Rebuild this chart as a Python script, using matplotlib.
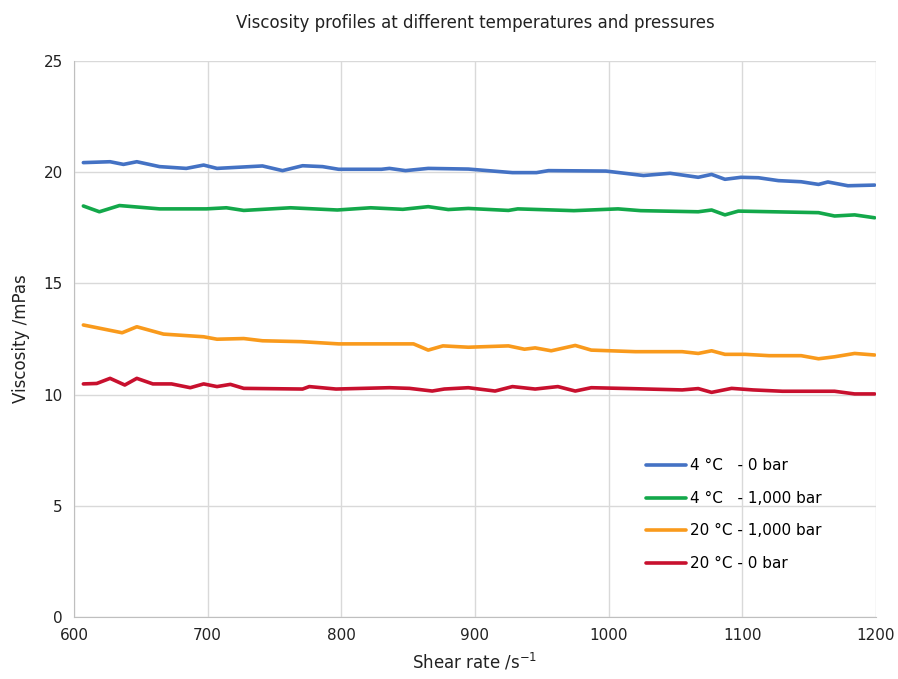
"""
Viscosity profiles at different temperatures and pressures.
"""

import matplotlib
matplotlib.use('Agg')
import matplotlib.pyplot as plt

# Shear rate samples (s^-1) and viscosity (mPas)
blue_x = [607, 627, 637, 647, 664, 684, 697, 707, 741, 756, 771, 786, 798, 830,
          836, 848, 865, 895, 928, 946, 955, 998, 1026, 1046, 1067, 1077, 1087,
          1099, 1112, 1127, 1144, 1157, 1164, 1179, 1199]
blue_y = [20.43, 20.47, 20.35, 20.47, 20.25, 20.17, 20.32, 20.17, 20.28, 20.07,
          20.29, 20.25, 20.13, 20.13, 20.17, 20.07, 20.17, 20.14, 19.98, 19.98,
          20.07, 20.05, 19.85, 19.95, 19.77, 19.90, 19.68, 19.77, 19.75, 19.62,
          19.57, 19.45, 19.56, 19.39, 19.42]

green_x = [607, 619, 634, 664, 699, 714, 727, 762, 797, 822, 846, 865, 880, 895,
           925, 932, 974, 1007, 1024, 1067, 1077, 1087, 1097, 1157, 1169, 1184,
           1199]
green_y = [18.48, 18.22, 18.50, 18.35, 18.35, 18.40, 18.28, 18.40, 18.30, 18.40,
           18.33, 18.45, 18.32, 18.37, 18.28, 18.35, 18.27, 18.35, 18.27, 18.22,
           18.30, 18.08, 18.25, 18.18, 18.03, 18.08, 17.95]

orange_x = [607, 636, 647, 667, 697, 707, 727, 741, 770, 798, 822, 854, 865, 876,
            895, 925, 937, 945, 957, 975, 987, 1020, 1055, 1067, 1077, 1087,
            1102, 1120, 1144, 1157, 1169, 1184, 1199]
orange_y = [13.13, 12.78, 13.05, 12.72, 12.60, 12.49, 12.52, 12.42, 12.38, 12.28,
            12.28, 12.28, 12.00, 12.19, 12.13, 12.19, 12.04, 12.10, 11.97, 12.21,
            12.00, 11.93, 11.93, 11.85, 11.97, 11.81, 11.81, 11.75, 11.75, 11.61,
            11.70, 11.85, 11.78]

red_x = [607, 617, 627, 638, 647, 659, 673, 687, 697, 707, 717, 727, 771, 776,
         796, 836, 851, 868, 877, 895, 915, 928, 945, 962, 975, 987, 1016, 1055,
         1067, 1077, 1092, 1108, 1130, 1169, 1184, 1199]
red_y = [10.48, 10.50, 10.73, 10.43, 10.73, 10.48, 10.48, 10.31, 10.48, 10.36,
         10.46, 10.28, 10.25, 10.36, 10.25, 10.31, 10.28, 10.16, 10.25, 10.31,
         10.16, 10.36, 10.25, 10.36, 10.16, 10.31, 10.27, 10.21, 10.27, 10.10,
         10.28, 10.21, 10.15, 10.15, 10.03, 10.03]

labels = ['4 °C   - 0 bar', '4 °C   - 1,000 bar', '20 °C - 1,000 bar', '20 °C - 0 bar']
colors = ['#4472C4', '#13A84A', '#F99A1C', '#C8102E']

x_ticks = [600, 700, 800, 900, 1000, 1100, 1200]
y_ticks = [0, 5, 10, 15, 20, 25]

# Create figure
fig = plt.figure(figsize=(8.98, 6.79), dpi=100)
ax = fig.add_axes([0.0824, 0.0913, 0.8931, 0.8189])

series = [(blue_x, blue_y), (green_x, green_y), (orange_x, orange_y), (red_x, red_y)]
for (xs, ys), label, color in zip(series, labels, colors):
    ax.plot(xs, ys, color=color, lw=2.6, label=label,
            solid_joinstyle='round', solid_capstyle='round')

# Configure axes
ax.set_xlim(600, 1200)
ax.set_ylim(0, 25)
ax.set_xticks(x_ticks)
ax.set_yticks(y_ticks)
ax.tick_params(length=0, labelsize=11, colors='#222222', pad=8)
ax.grid(True, color='#d9d9d9', lw=1)
ax.set_axisbelow(True)
for side in ['top', 'right']:
    ax.spines[side].set_visible(False)
for side in ['left', 'bottom']:
    ax.spines[side].set_color('#bfbfbf')

ax.set_title('Viscosity profiles at different temperatures and pressures',
             fontsize=12, pad=24, color='#222222')
ax.set_xlabel('Shear rate /s$^{-1}$', fontsize=12, color='#222222', labelpad=6)
ax.set_ylabel('Viscosity /mPas', fontsize=12, color='#222222', labelpad=10)

ax.legend(loc='lower left', bbox_to_anchor=(0.696, 0.058), frameon=False,
          fontsize=11, handlelength=2.6, labelspacing=1.15, handletextpad=0.3)

plt.savefig('out.png', dpi=100)
plt.close()
